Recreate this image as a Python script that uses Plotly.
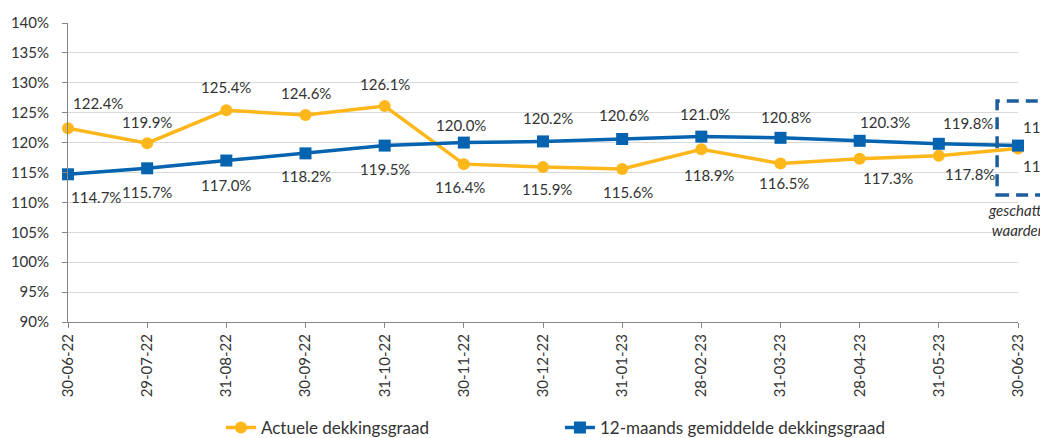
import plotly.graph_objects as go

dates = ["30-06-22", "29-07-22", "31-08-22", "30-09-22", "31-10-22", "30-11-22",
         "30-12-22", "31-01-23", "28-02-23", "31-03-23", "28-04-23", "31-05-23", "30-06-23"]
actueel = [122.4, 119.9, 125.4, 124.6, 126.1, 116.4, 115.9, 115.6, 118.9, 116.5, 117.3, 117.8, 119.0]
gemiddeld = [114.7, 115.7, 117.0, 118.2, 119.5, 120.0, 120.2, 120.6, 121.0, 120.8, 120.3, 119.8, 119.5]
name_act = "Actuele dekkingsgraad"
name_gem = "12-maands gemiddelde dekkingsgraad"
y_ticks = [90, 95, 100, 105, 110, 115, 120, 125, 130, 135, 140]
note_text = "geschatte<br>waarden"

# label offsets in pixels (style only): (dx, dy) with dy positive = downward
off_act = [(30, -25), (0, -21), (0, -23), (0, -22), (0, -22), (-4, 23), (4, 22), (6, 23),
           (8, 26), (3, 19), (28, 19), (31, 18), (30, 17)]
off_gem = [(28, 23), (0, 24), (0, 24), (0, 23), (0, 23), (-3, -18), (5, -23), (2, -24),
           (4, -23), (5, -21), (25, -19), (29, -21), (30, -19)]

ORANGE = "#FDB71A"
BLUE = "#0563B0"
FONT = "Lato"
TXT = "#333333"

fig = go.Figure()
fig.add_trace(go.Scatter(x=dates, y=actueel, name=name_act, mode="lines+markers",
                         line=dict(color=ORANGE, width=3.5),
                         marker=dict(symbol="circle", size=12, color=ORANGE),
                         cliponaxis=False))
fig.add_trace(go.Scatter(x=dates, y=gemiddeld, name=name_gem, mode="lines+markers",
                         line=dict(color=BLUE, width=3.5),
                         marker=dict(symbol="square", size=12, color=BLUE),
                         cliponaxis=False))

annotations = []
for series, offs in ((actueel, off_act), (gemiddeld, off_gem)):
    for d, v, (dx, dy) in zip(dates, series, offs):
        annotations.append(dict(x=d, y=v, xref="x", yref="y", text=f"{v:.1f}%",
                                showarrow=False, xshift=dx, yshift=-dy,
                                font=dict(family=FONT, size=15, color=TXT)))
annotations.append(dict(x=1.0, y=0.341, xref="paper", yref="paper", text=note_text,
                        showarrow=False, xanchor="center", yanchor="middle", align="center",
                        font=dict(family=FONT, size=15, color=TXT, style="italic")))

fig.add_shape(type="rect", xref="paper", yref="paper", x0=0.978, x1=1.06, y0=0.425, y1=0.739,
              line=dict(color="#1C5E9C", width=3.5, dash="12px,7px"), fillcolor="rgba(0,0,0,0)")

fig.update_layout(
    width=1040, height=446,
    margin=dict(l=60, r=30, t=15, b=132, autoexpand=False),
    paper_bgcolor="white", plot_bgcolor="white",
    font=dict(family=FONT, size=14, color=TXT),
    annotations=annotations,
    showlegend=True,
    legend=dict(orientation="h", x=0.161, xanchor="left", y=-0.354, yanchor="middle",
                font=dict(family=FONT, size=17, color=TXT), entrywidth=294,
                itemwidth=30, bgcolor="rgba(0,0,0,0)"),
)
fig.update_xaxes(type="category", range=[0, 12], showgrid=False, showline=True, automargin=False,
                 linecolor="#868686", linewidth=1, ticks="outside", ticklen=5,
                 tickcolor="#868686", tickangle=-90, tickfont=dict(family=FONT, size=15, color=TXT))
fig.update_yaxes(range=[90, 140], tickvals=y_ticks, ticktext=[f"{t}%" for t in y_ticks],
                 showgrid=True, gridcolor="#D9D9D9", gridwidth=1, showline=True, automargin=False,
                 linecolor="#868686", linewidth=1, ticks="outside", ticklen=5,
                 tickcolor="#868686", zeroline=False, ticklabelstandoff=10,
                 tickfont=dict(family=FONT, size=15, color=TXT))

fig.write_html("out.html")
